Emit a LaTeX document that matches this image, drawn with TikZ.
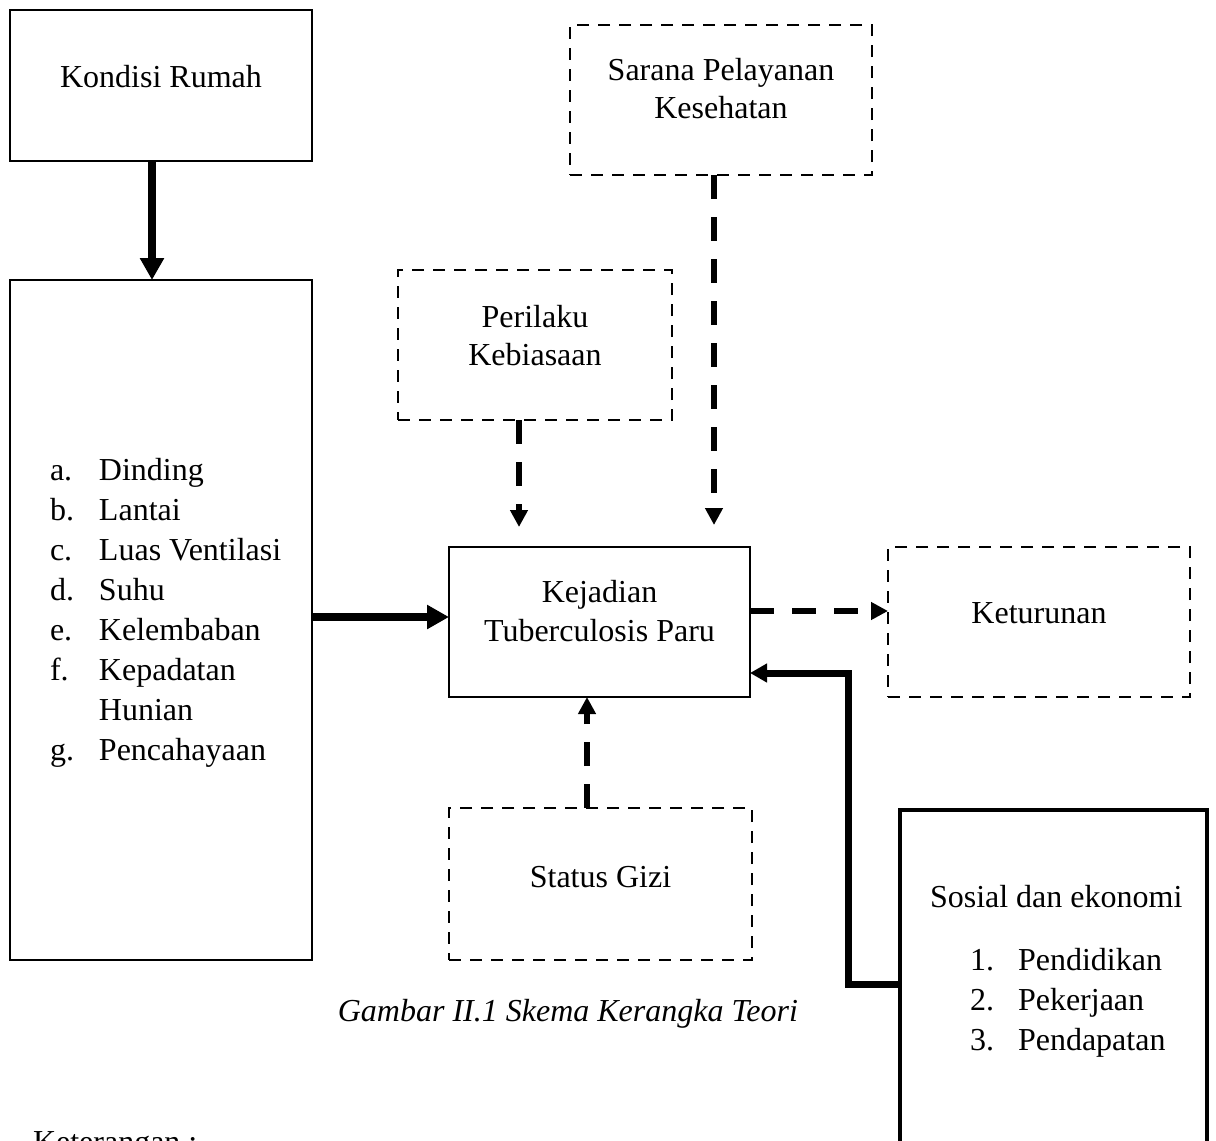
\documentclass[tikz,border=0pt]{standalone}
\usepackage{fontspec}
\setmainfont{Liberation Serif}
\usetikzlibrary{arrows.meta}
\begin{document}
\begin{tikzpicture}[x=0.5pt,y=-0.5pt,
  font=\fontsize{16pt}{20pt}\selectfont,
  box/.style={draw, line width=1.2pt, inner sep=0pt, outer sep=0pt, rectangle},
  dbox/.style={draw, line width=1.2pt, dash pattern=on 6pt off 4.5pt, inner sep=0pt, outer sep=0pt, rectangle},
  txt/.style={inner sep=0pt, outer sep=0pt, anchor=base},
  bigarrow/.style={line width=4pt, -{Triangle[length=11pt,width=11.5pt]}},
  darrow/.style={line width=3pt, dash pattern=on 12pt off 9pt, -{Triangle[length=8.5pt,width=8.5pt]}},
  elbow/.style={line width=3.5pt, -{Triangle[length=8.5pt,width=9pt]}}]
\clip (0,0) rectangle (1216,1141);
% boxes
\node[box, minimum width=151pt, minimum height=75.5pt] (kr) at (161,85.5) {};
\node[box, minimum width=151pt, minimum height=340pt] (lst) at (161,620) {};
\node[dbox, minimum width=151pt, minimum height=75pt] (spk) at (721,100) {};
\node[dbox, minimum width=137pt, minimum height=75pt] (pk) at (535,345) {};
\node[box, line width=1pt, minimum width=150.5pt, minimum height=75pt] (kj) at (599.5,622) {};
\node[dbox, minimum width=151pt, minimum height=75pt] (kt) at (1039,622) {};
\node[dbox, minimum width=151.5pt, minimum height=76pt] (sg) at (600.5,884) {};
\node[box, line width=2pt, minimum width=153.5pt, minimum height=175pt] (se) at (1053.5,985) {};
% texts
\node[txt] (krt) at (161,87) {Kondisi Rumah};
\node[txt] (spt1) at (721,80) {Sarana Pelayanan};
\node[txt] (spt2) at (721,118) {Kesehatan};
\node[txt] (pkt1) at (535,327) {Perilaku};
\node[txt] (pkt2) at (535,365) {Kebiasaan};
\node[txt] (kjt1) at (599.5,602) {Kejadian};
\node[txt] (kjt2) at (599.5,641) {Tuberculosis Paru};
\node[txt] (ktt) at (1039,623) {Keturunan};
\node[txt] (sgt) at (600.5,887) {Status Gizi};
\node[txt, anchor=base west] (lstt) at (50,480) {\begin{tabular}[t]{@{}p{24.5pt}@{}l@{}}
a. & Dinding\\
b. & Lantai\\
c. & Luas Ventilasi\\
d. & Suhu\\
e. & Kelembaban\\
f. & Kepadatan\\
 & Hunian\\
g. & Pencahayaan
\end{tabular}};
\node[txt, anchor=base west] (set) at (930,907) {Sosial dan ekonomi};
\node[txt, anchor=base west] (selst) at (970,970) {\begin{tabular}[t]{@{}p{24pt}@{}l@{}}
1. & Pendidikan\\
2. & Pekerjaan\\
3. & Pendapatan
\end{tabular}};
\node[txt, anchor=base east] (cap) at (798,1021) {\itshape Gambar II.1 Skema Kerangka Teori};
\node[txt, anchor=base west] (ket) at (33,1152) {Keterangan :};
% helper coordinates
\coordinate (xa) at (152,0);
\coordinate (ya) at (0,617);
\coordinate (xp) at (519,0);
\coordinate (xs) at (714,0);
\coordinate (yt) at (0,527);
\coordinate (ys) at (0,525);
\coordinate (yk) at (0,611);
\coordinate (xg) at (587,0);
\coordinate (ye) at (0,984);
\coordinate (xe) at (848,0);
\coordinate (yr) at (0,673);
% connectors
\draw[bigarrow] (kr.south -| xa) -- (lst.north -| xa);
\draw[bigarrow] (lst.east |- ya) -- (kj.west |- ya);
\draw[darrow] (pk.south -| xp) -- (xp |- yt);
\draw[darrow] (spk.south -| xs) -- (xs |- ys);
\draw[darrow] (kj.east |- yk) -- (kt.west |- yk);
\draw[darrow] (sg.north -| xg) -- (kj.south -| xg);
\draw[elbow] (se.west |- ye) -- (xe |- ye) -- (xe |- yr) -- (kj.east |- yr);
\end{tikzpicture}
\end{document}
